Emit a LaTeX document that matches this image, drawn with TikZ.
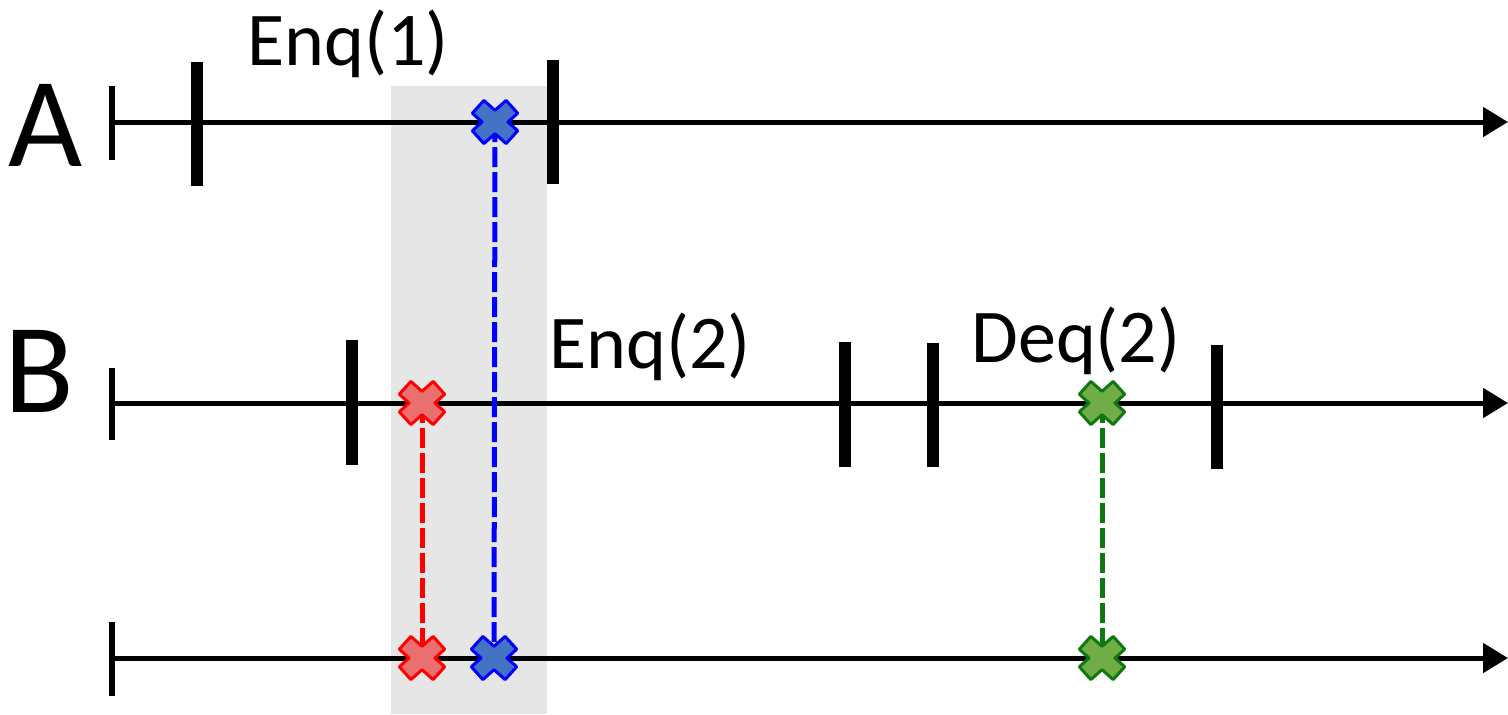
\documentclass[tikz,border=0pt]{standalone}
\usepackage{fontspec}
\setmainfont{Carlito}
\usetikzlibrary{arrows.meta}
\definecolor{bandgray}{RGB}{230,230,230}
\definecolor{xbluefill}{RGB}{68,114,196}
\definecolor{xblueline}{RGB}{0,0,255}
\definecolor{xredfill}{RGB}{234,112,112}
\definecolor{xredline}{RGB}{255,0,0}
\definecolor{xgreenfill}{RGB}{112,173,71}
\definecolor{xgreenline}{RGB}{16,120,16}
\tikzset{
  axisline/.style={line width=2.5pt,-{Triangle[length=12.5pt,width=14.5pt]}},
  starttick/.style={line width=3pt},
  bartick/.style={line width=6pt},
  link/.style={line width=2.5pt,dash pattern=on 10pt off 2.5pt},
  bluex/.style={fill=xbluefill,draw=xblueline,line width=1.5pt,line join=round},
  redx/.style={fill=xredfill,draw=xredline,line width=1.5pt,line join=round},
  greenx/.style={fill=xgreenfill,draw=xgreenline,line width=1.5pt,line join=round},
  biglabel/.style={inner sep=0pt,font=\fontsize{64}{76}\selectfont},
  oplabel/.style={inner sep=0pt,anchor=base,font=\fontsize{38}{46}\selectfont}
}
\newcommand\drawxmark[2]{%
  \begin{scope}[shift={(#1)},scale=1.08]
    \draw[#2] (0,-10.8) -- (10.3,-20) -- (21,-8.1) -- (12,0) -- (21,8.1) -- (10.3,20) --
      (0,10.8) -- (-10.3,20) -- (-21,8.1) -- (-12,0) -- (-21,-8.1) -- (-10.3,-20) -- cycle;
  \end{scope}}
\begin{document}
\begin{tikzpicture}[x=0.5pt,y=-0.5pt]
\useasboundingbox (0,0) rectangle (1508,714);
% highlight band
\fill[bandgray] (391,86) rectangle (547,714);
% axes
\coordinate (a0) at (112,122); \coordinate (a1) at (1508,122);
\coordinate (b0) at (112,403); \coordinate (b1) at (1508,403);
\coordinate (c0) at (112,658); \coordinate (c1) at (1508,658);
\draw[axisline] (a0) -- (a1);
\draw[axisline] (b0) -- (b1);
\draw[axisline] (c0) -- (c1);
\draw[starttick] (112,86) -- (112,160);
\draw[starttick] (112,368) -- (112,440);
\draw[starttick] (112,622) -- (112,696);
% operation ticks
\draw[bartick] (197,62) -- (197,186);
\draw[bartick] (553,60) -- (553,184);
\draw[bartick] (352,340) -- (352,465);
\draw[bartick] (845,342) -- (845,467);
\draw[bartick] (933,343) -- (933,467);
\draw[bartick] (1217,345) -- (1217,469);
% cross positions
\coordinate (xa) at (495,122);
\coordinate (xbr) at (422,403);
\coordinate (xbg) at (1102,403);
\coordinate (xcr) at (422,658);
\coordinate (xcb) at (494,658);
\coordinate (xcg) at (1102,658);
% links
\draw[link,xblueline] (xa) -- (xcb);
\draw[link,xredline] (xbr) -- (xcr);
\draw[link,xgreenline] (xbg) -- (xcg);
% crosses
\drawxmark{xa}{bluex}
\drawxmark{xbr}{redx}
\drawxmark{xbg}{greenx}
\drawxmark{xcr}{redx}
\drawxmark{xcb}{bluex}
\drawxmark{xcg}{greenx}
% labels
\node[biglabel,anchor=base west] (labA) at (8,166) {A};
\node[biglabel,anchor=base west] (labB) at (4,412) {B};
\node[oplabel] (enq1) at (348,65) {Enq(1)};
\node[oplabel] (enq2) at (650,368) {Enq(2)};
\node[oplabel] (deq2) at (1076,362) {Deq(2)};
\end{tikzpicture}
\end{document}
